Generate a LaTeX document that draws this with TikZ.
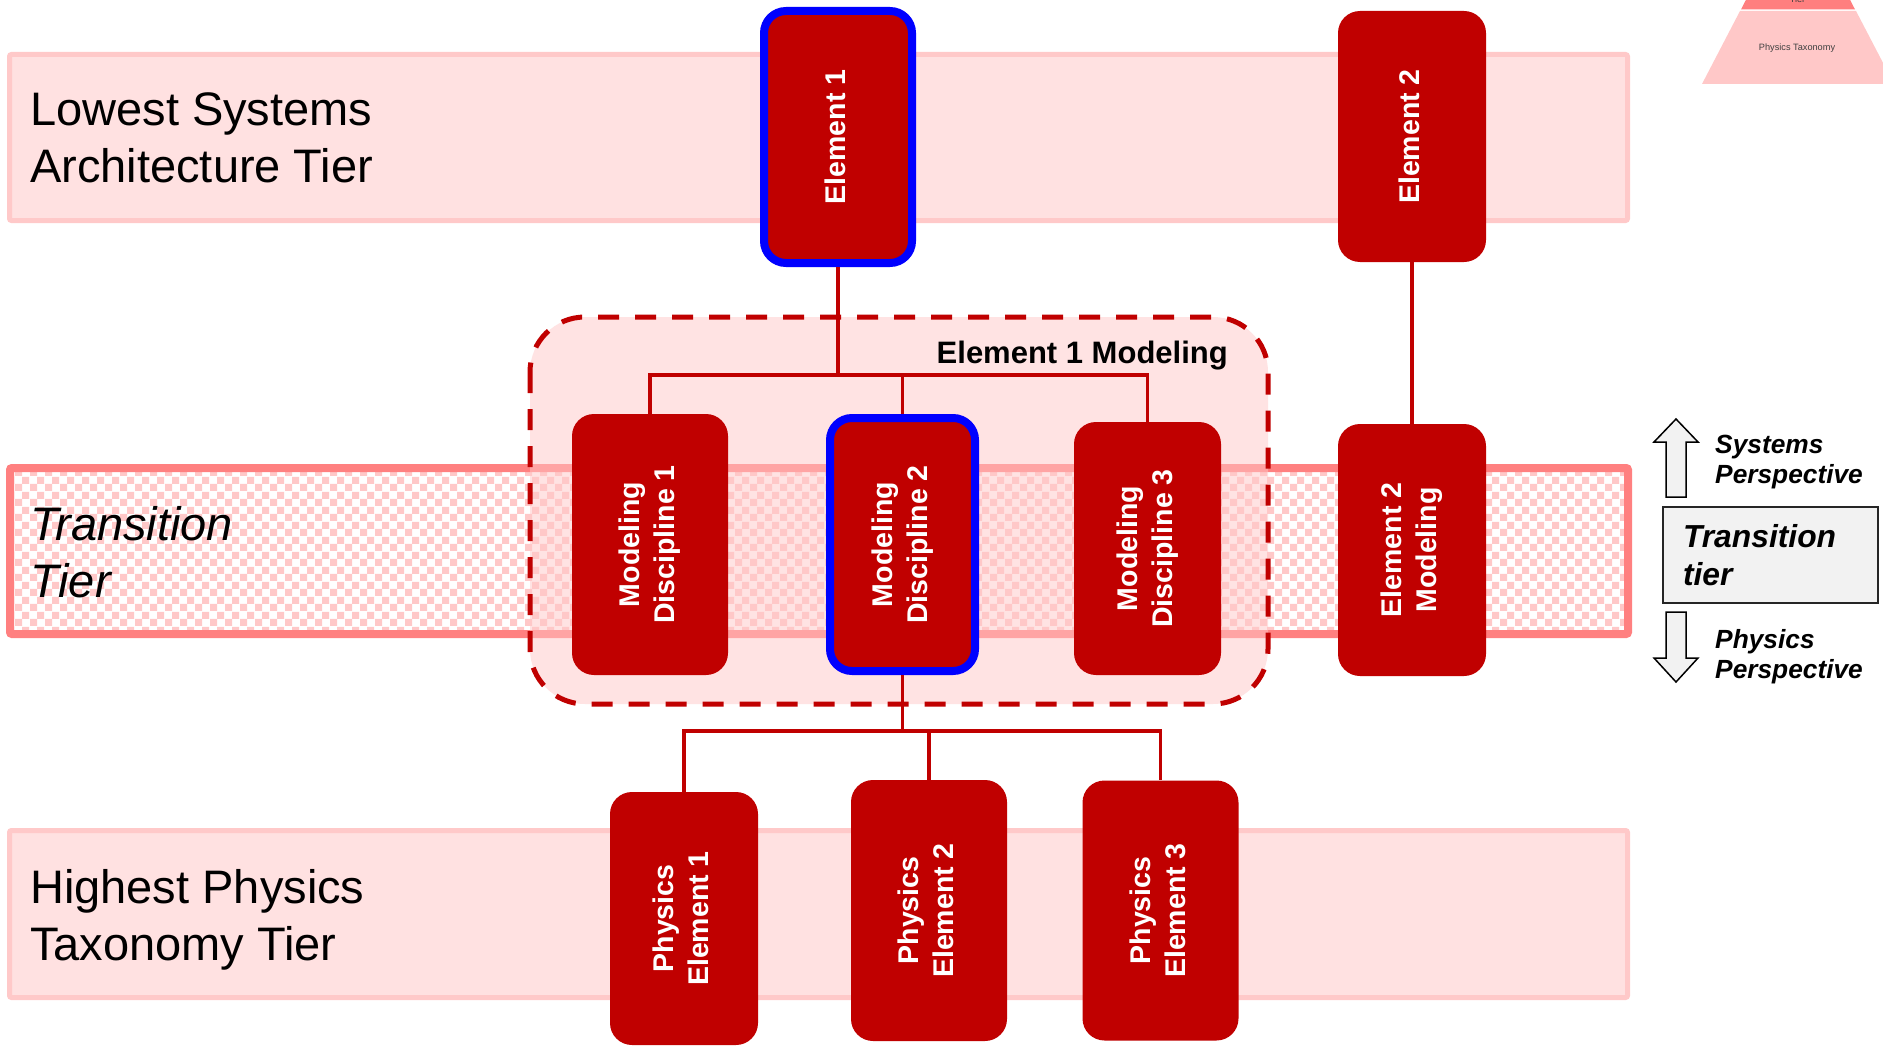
\documentclass[tikz,border=0pt]{standalone}
\usepackage{fontspec}
\setmainfont{Liberation Sans}
\usetikzlibrary{patterns}

\definecolor{nodered}{HTML}{C00000}
\definecolor{selblue}{HTML}{0000FF}
\definecolor{tierfill}{HTML}{FFE1E1}
\definecolor{tierline}{HTML}{FFC9C9}
\definecolor{transline}{HTML}{FF8080}
\definecolor{checkpink}{HTML}{FFC8C8}
\definecolor{legendgray}{HTML}{F2F2F2}
\definecolor{legendline}{HTML}{262626}
\definecolor{pyrtop}{HTML}{FF7F7F}
\definecolor{pyrbase}{HTML}{FFC8C8}
\definecolor{pyrtext}{HTML}{404040}

% checkerboard used for the transition tier
\pgfdeclarepatternformonly{tierchecker}{\pgfpointorigin}{\pgfqpoint{15pt}{15pt}}{\pgfqpoint{15pt}{15pt}}{%
  \pgfpathrectangle{\pgfpointorigin}{\pgfqpoint{7.5pt}{7.5pt}}%
  \pgfpathrectangle{\pgfqpoint{7.5pt}{7.5pt}}{\pgfqpoint{7.5pt}{7.5pt}}%
  \pgfusepath{fill}}

\newcommand{\tierfont}{\fontsize{47}{57}\selectfont}
\newcommand{\boxfont}{\fontsize{28.5}{35}\selectfont\bfseries}
\newcommand{\legendfont}{\fontsize{26.3}{30}\selectfont\bfseries\itshape}
\newcommand{\vlabel}[1]{\rotatebox{90}{\begin{tabular}{@{}c@{}}#1\end{tabular}}}

\begin{document}
\begin{tikzpicture}[x=1pt,y=-1pt,
  tierband/.style={draw=tierline, fill=tierfill, line width=5pt, rounded corners=2pt},
  tierlabel/.style={anchor=west, align=left, inner sep=0pt, font=\tierfont},
  blk/.style={fill=nodered, rounded corners=22pt, inner sep=0pt, text=white, font=\boxfont},
  sel/.style={draw=selblue, line width=8pt},
  grouplabel/.style={inner sep=0pt, font=\fontsize{31}{37}\selectfont\bfseries},
  link/.style={draw=nodered, line width=3.5pt},
  legendarrow/.style={draw=black, fill=legendgray, line width=1.5pt},
  legendtext/.style={anchor=west, align=left, inner sep=0pt, font=\legendfont}]

\useasboundingbox (0,0) rectangle (1883,1046);
\clip (0,0) rectangle (1883,1046);
\fill[white] (0,0) rectangle (1883,1046);

% tier bands
\draw[tierband] (9.5,54.5) rectangle (1627.5,220.5);
\draw[tierband] (9.5,830.5) rectangle (1627.5,997.5);
\fill[white] (10,468) rectangle (1628,634);
\fill[pattern=tierchecker, pattern color=checkpink] (10,468) rectangle (1628,634);
\draw[transline, line width=8pt, rounded corners=2pt] (10,468) rectangle (1628,634);

\node[tierlabel] (lowlab) at (30,138) {Lowest Systems\\Architecture Tier};
\node[tierlabel, font=\tierfont\itshape] (translab) at (30,552.5) {Transition\\Tier};
\node[tierlabel] (highlab) at (30,920) {Highest Physics\\Taxonomy Tier};

% group of modeling disciplines
\draw[nodered, line width=5pt, dash pattern=on 21pt off 16pt, fill=checkpink, fill opacity=0.5,
      rounded corners=55pt] (530,317) rectangle (1268,704);
\node[grouplabel, anchor=base east] (grplab) at (1228,363) {Element 1 Modeling};

% elements
\node[blk, sel, minimum width=148pt, minimum height=252pt] (e1) at (838,137) {\vlabel{Element 1}};
\node[blk, minimum width=148pt, minimum height=251pt] (e2) at (1412,136.5) {\vlabel{Element 2}};
\node[blk, minimum width=156pt, minimum height=261pt] (md1) at (650,544.5) {\vlabel{Modeling\\Discipline 1}};
\node[blk, sel, minimum width=145pt, minimum height=253pt] (md2) at (902.5,544.5) {\vlabel{Modeling\\Discipline 2}};
\node[blk, minimum width=147pt, minimum height=253pt] (md3) at (1147.5,548.5) {\vlabel{Modeling\\Discipline 3}};
\node[blk, minimum width=148pt, minimum height=252pt] (e2m) at (1412,550) {\vlabel{Element 2\\Modeling}};
\node[blk, minimum width=148pt, minimum height=253pt] (pe1) at (684,918.5) {\vlabel{Physics\\Element 1}};
\node[blk, minimum width=156pt, minimum height=261pt] (pe2) at (929,910.5) {\vlabel{Physics\\Element 2}};
\node[blk, minimum width=156pt, minimum height=260pt] (pe3) at (1160.5,910.5) {\vlabel{Physics\\Element 3}};

% connectors
\coordinate (busA) at (838,375);
\coordinate (busB) at (902.5,731);
\draw[link] (e1.south) -- (busA);
\draw[link] (md1.north) |- (busA) -| (md3.north);
\draw[link] (md2.north) -- (md2.north |- busA);
\draw[link] (md2.south) -- (busB);
\draw[link] (pe1.north) |- (busB) -| (pe3.north);
\draw[link] (pe2.north) -- (pe2.north |- busB);
\draw[link] (e2.south) -- (e2m.north);

% perspective legend
\draw[legendarrow] (1676,419) -- (1698,442) -- (1686,442) -- (1686,497) -- (1666,497)
  -- (1666,442) -- (1654,442) -- cycle;
\draw[legendarrow] (1666,612) -- (1686,612) -- (1686,658) -- (1698,658) -- (1676,682)
  -- (1654,658) -- (1666,658) -- cycle;
\node[legendtext] (syslab) at (1715,462) {Systems\\Perspective};
\node[legendtext] (phylab) at (1715,657) {Physics\\Perspective};
\node[draw=legendline, fill=legendgray, line width=2pt, minimum width=215pt, minimum height=96pt,
      text width=175pt, inner xsep=20pt, align=left,
      font=\fontsize{31.8}{38}\selectfont\bfseries\itshape] (ttbox) at (1770.5,555) {Transition\\tier};

% taxonomy pyramid thumbnail
\fill[pyrtop] (1751,-10) -- (1845,-10) -- (1855,9.5) -- (1741,9.5) -- cycle;
\fill[pyrbase] (1740,11) -- (1856,11) -- (1894,84) -- (1702,84) -- cycle;
\node[inner sep=0pt, text=pyrtext, font=\fontsize{9.2}{11}\selectfont, anchor=base] (pyrtier) at (1797.5,2.5) {Tier};
\node[inner sep=0pt, text=pyrtext, font=\fontsize{9.2}{11}\selectfont] (pyrlab) at (1797,47.7) {Physics Taxonomy};

\end{tikzpicture}
\end{document}
